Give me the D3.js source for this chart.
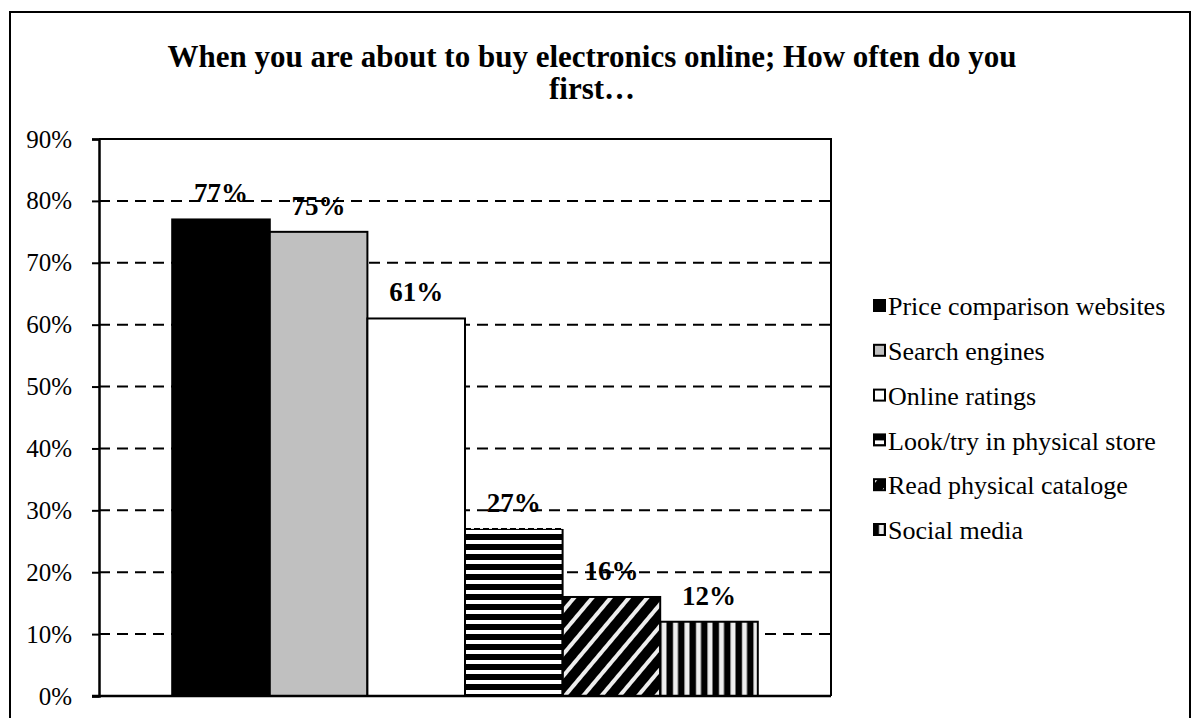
<!DOCTYPE html>
<html>
<head>
<meta charset="utf-8">
<script src="https://cdn.jsdelivr.net/npm/d3@7"></script>
<style>
  body { margin: 0; background: #fff; }
  text { font-family: "Liberation Serif", "Times New Roman", serif; fill: #000; }
</style>
</head>
<body>
<svg id="chart" width="1200" height="718"></svg>
<script>
const title = ["When you are about to buy electronics online; How often do you", "first\u2026"];
const series = [
  "Price comparison websites",
  "Search engines",
  "Online ratings",
  "Look/try in physical store",
  "Read physical cataloge",
  "Social media"
];
const values = [0.77, 0.75, 0.61, 0.27, 0.16, 0.12];
const yTicks = [0, 0.1, 0.2, 0.3, 0.4, 0.5, 0.6, 0.7, 0.8, 0.9];

const width = 1200, height = 718;
const margin = { top: 139, right: 369, bottom: 22, left: 99 };
const fills = ["#000", "#c0c0c0", "#fff", "url(#hstripe)", "url(#diag)", "url(#vstripe)"];

const svg = d3.select("#chart");

// patterns
const defs = svg.append("defs");
const h = defs.append("pattern").attr("id", "hstripe").attr("patternUnits", "userSpaceOnUse")
  .attr("width", 10).attr("height", 10);
h.append("rect").attr("width", 10).attr("height", 10).attr("fill", "#fff");
h.append("rect").attr("y", 4).attr("width", 10).attr("height", 6).attr("fill", "#000");

const dg = defs.append("pattern").attr("id", "diag").attr("patternUnits", "userSpaceOnUse")
  .attr("width", 14).attr("height", 14).attr("patternTransform", "rotate(40)");
dg.append("rect").attr("width", 14).attr("height", 14).attr("fill", "#000");
dg.append("rect").attr("x", 10).attr("width", 4).attr("height", 14).attr("fill", "#eee");

const v = defs.append("pattern").attr("id", "vstripe").attr("patternUnits", "userSpaceOnUse")
  .attr("width", 11.5).attr("height", 10);
v.append("rect").attr("width", 11.5).attr("height", 10).attr("fill", "#000");
v.append("rect").attr("x", 6).attr("width", 5).attr("height", 10).attr("fill", "#eee");

// outer frame
svg.append("rect")
  .attr("x", 10).attr("y", 12).attr("width", 1180).attr("height", 720)
  .attr("fill", "none").attr("stroke", "#000").attr("stroke-width", 2);

// title
svg.append("text")
  .attr("text-anchor", "middle")
  .attr("font-weight", "bold")
  .attr("font-size", 31)
  .selectAll("tspan")
  .data(title)
  .join("tspan")
  .attr("x", 592)
  .attr("y", (d, i) => 67 + i * 32)
  .text(d => d);

const x0 = d3.scaleBand()
  .domain(["all"])
  .range([margin.left, width - margin.right])
  .paddingInner(0)
  .paddingOuter(0.125);

const x1 = d3.scaleBand()
  .domain(series)
  .range([x0("all"), x0("all") + x0.bandwidth()]);

const y = d3.scaleLinear()
  .domain([0, 0.9])
  .range([height - margin.bottom, margin.top]);

const fmt = d3.format(".0%");

// gridlines
svg.append("g")
  .selectAll("line")
  .data(yTicks.filter(d => d > 0 && d < 0.9))
  .join("line")
  .attr("x1", margin.left).attr("x2", width - margin.right)
  .attr("y1", d => y(d)).attr("y2", d => y(d))
  .attr("stroke", "#000").attr("stroke-width", 2)
  .attr("stroke-dasharray", "11,7");

// bars
const bars = svg.append("g");
bars.selectAll("rect")
  .data(series)
  .join("rect")
  .attr("x", d => x1(d))
  .attr("y", (d, i) => y(values[i]))
  .attr("width", x1.bandwidth())
  .attr("height", (d, i) => y(0) - y(values[i]))
  .attr("fill", (d, i) => fills[i])
  .attr("stroke", (d, i) => i === 3 ? "none" : "#000")
  .attr("stroke-width", 2);

// striped bar has a dashed top edge
const sb = series[3];
const sx = x1(sb), sw = x1.bandwidth(), st = y(values[3]);
bars.append("path")
  .attr("d", `M${sx},${y(0)}V${st}M${sx + sw},${st}V${y(0)}`)
  .attr("stroke", "#000").attr("stroke-width", 2).attr("fill", "none");
bars.append("line")
  .attr("x1", sx).attr("x2", sx + sw).attr("y1", st).attr("y2", st)
  .attr("stroke", "#000").attr("stroke-width", 2).attr("stroke-dasharray", "6,3");

// value labels
svg.append("g")
  .selectAll("text")
  .data(series)
  .join("text")
  .attr("x", d => x1(d) + x1.bandwidth() / 2)
  .attr("y", (d, i) => y(values[i]) - 17)
  .attr("text-anchor", "middle")
  .attr("font-weight", "bold")
  .attr("font-size", 27)
  .text((d, i) => fmt(values[i]));

// plot frame (top + right)
svg.append("path")
  .attr("d", `M${margin.left},${y(0.9)}H${width - margin.right}V${y(0)}`)
  .attr("fill", "none").attr("stroke", "#000").attr("stroke-width", 2);

// y axis
const yAxis = svg.append("g")
  .attr("transform", `translate(${margin.left},0)`)
  .call(d3.axisLeft(y).tickValues(yTicks).tickFormat(fmt).tickSize(7).tickPadding(20));
yAxis.select(".domain").attr("stroke-width", 2.5);
yAxis.selectAll(".tick line").attr("stroke-width", 2);
yAxis.selectAll(".tick text")
  .attr("font-size", 25)
  .attr("font-family", "Liberation Serif, Times New Roman, serif")
  .attr("fill", "#000");

// x axis baseline
svg.append("line")
  .attr("x1", margin.left - 7).attr("x2", width - margin.right)
  .attr("y1", y(0)).attr("y2", y(0))
  .attr("stroke", "#000").attr("stroke-width", 2.5);

// legend
const legend = svg.append("g").attr("transform", "translate(873,306)");
const item = legend.selectAll("g")
  .data(series)
  .join("g")
  .attr("transform", (d, i) => `translate(0,${i * 44.8})`);
item.append("rect")
  .attr("x", 1).attr("y", -6).attr("width", 11).attr("height", 11)
  .attr("fill", (d, i) => fills[i])
  .attr("stroke", "#000").attr("stroke-width", 2);
item.append("text")
  .attr("x", 15)
  .attr("y", 0)
  .attr("dy", "0.35em")
  .attr("font-size", 26)
  .text(d => d);
</script>
</body>
</html>
